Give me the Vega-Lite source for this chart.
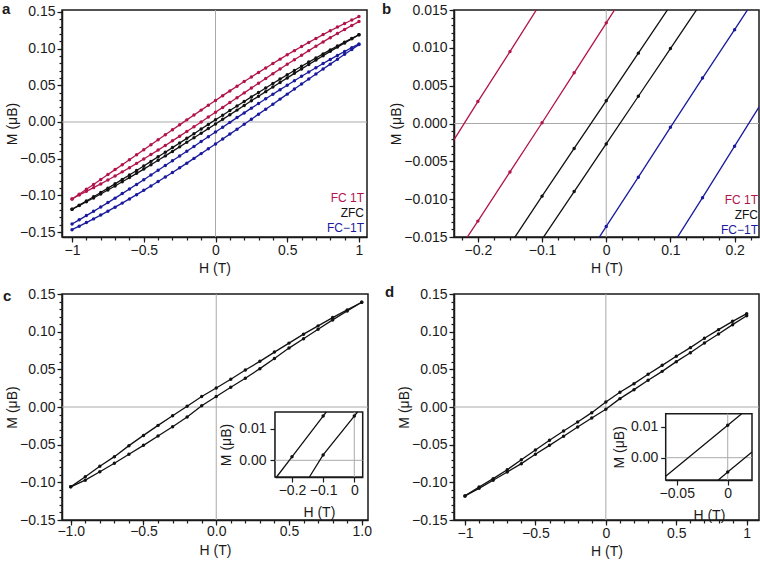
{
"$schema": "https://vega.github.io/schema/vega-lite/v6.json",
"padding": {"left": 1, "top": 1, "right": 0, "bottom": 0},
"background": "white",
"columns": 2,
"spacing": {"row": 57, "column": 86},
"bounds": "flush",
"config": {
  "font": "Liberation Sans",
  "view": {"stroke": "#1a1a1a", "strokeWidth": 1.5},
  "axis": {"labelFontSize": 14, "titleFontSize": 14, "titleFontWeight": "normal", "labelColor": "#1a1a1a", "titleColor": "#1a1a1a", "domainColor": "#1a1a1a", "domainWidth": 1.5, "tickColor": "#1a1a1a", "tickWidth": 1.2, "tickSize": 5, "grid": false, "labelPadding": 2, "labelOverlap": false, "labelFlush": false, "labelBound": false},
  "axisX": {"titlePadding": 4, "labelPadding": 1},
  "axisY": {"titlePadding": 0},
  "title": {"anchor": "start", "frame": "group", "fontSize": 15, "fontWeight": "bold", "offset": 0, "baseline": "alphabetic", "color": "#1a1a1a"}
},
"datasets": {
"A": [
{"s":"FC 1T","b":"u","h":-1,"m":-0.105},{"s":"FC 1T","b":"u","h":-0.95,"m":-0.0984},{"s":"FC 1T","b":"u","h":-0.9,"m":-0.0918},{"s":"FC 1T","b":"u","h":-0.85,"m":-0.0851},{"s":"FC 1T","b":"u","h":-0.8,"m":-0.0784},{"s":"FC 1T","b":"u","h":-0.75,"m":-0.0717},{"s":"FC 1T","b":"u","h":-0.7,"m":-0.0649},{"s":"FC 1T","b":"u","h":-0.65,"m":-0.0582},{"s":"FC 1T","b":"u","h":-0.6,"m":-0.0514},{"s":"FC 1T","b":"u","h":-0.55,"m":-0.0446},{"s":"FC 1T","b":"u","h":-0.5,"m":-0.0378},{"s":"FC 1T","b":"u","h":-0.45,"m":-0.031},{"s":"FC 1T","b":"u","h":-0.4,"m":-0.0242},{"s":"FC 1T","b":"u","h":-0.35,"m":-0.0174},{"s":"FC 1T","b":"u","h":-0.3,"m":-0.0106},{"s":"FC 1T","b":"u","h":-0.25,"m":-0.0039},{"s":"FC 1T","b":"u","h":-0.2,"m":0.0029},{"s":"FC 1T","b":"u","h":-0.15,"m":0.0095},{"s":"FC 1T","b":"u","h":-0.1,"m":0.0162},{"s":"FC 1T","b":"u","h":-0.05,"m":0.0228},{"s":"FC 1T","b":"u","h":0,"m":0.0294},{"s":"FC 1T","b":"u","h":0.05,"m":0.0359},{"s":"FC 1T","b":"u","h":0.1,"m":0.0424},{"s":"FC 1T","b":"u","h":0.15,"m":0.0488},{"s":"FC 1T","b":"u","h":0.2,"m":0.0552},{"s":"FC 1T","b":"u","h":0.25,"m":0.0614},{"s":"FC 1T","b":"u","h":0.3,"m":0.0676},{"s":"FC 1T","b":"u","h":0.35,"m":0.0737},{"s":"FC 1T","b":"u","h":0.4,"m":0.0798},{"s":"FC 1T","b":"u","h":0.45,"m":0.0857},{"s":"FC 1T","b":"u","h":0.5,"m":0.0916},{"s":"FC 1T","b":"u","h":0.55,"m":0.0973},{"s":"FC 1T","b":"u","h":0.6,"m":0.1029},{"s":"FC 1T","b":"u","h":0.65,"m":0.1085},{"s":"FC 1T","b":"u","h":0.7,"m":0.1139},{"s":"FC 1T","b":"u","h":0.75,"m":0.1192},{"s":"FC 1T","b":"u","h":0.8,"m":0.1244},{"s":"FC 1T","b":"u","h":0.85,"m":0.1294},{"s":"FC 1T","b":"u","h":0.9,"m":0.1343},{"s":"FC 1T","b":"u","h":0.95,"m":0.1391},{"s":"FC 1T","b":"u","h":1,"m":0.1437},
{"s":"FC 1T","b":"l","h":-1,"m":-0.105},{"s":"FC 1T","b":"l","h":-0.95,"m":-0.0994},{"s":"FC 1T","b":"l","h":-0.9,"m":-0.0945},{"s":"FC 1T","b":"l","h":-0.85,"m":-0.0895},{"s":"FC 1T","b":"l","h":-0.8,"m":-0.0844},{"s":"FC 1T","b":"l","h":-0.75,"m":-0.0791},{"s":"FC 1T","b":"l","h":-0.7,"m":-0.0736},{"s":"FC 1T","b":"l","h":-0.65,"m":-0.068},{"s":"FC 1T","b":"l","h":-0.6,"m":-0.0623},{"s":"FC 1T","b":"l","h":-0.55,"m":-0.0564},{"s":"FC 1T","b":"l","h":-0.5,"m":-0.0505},{"s":"FC 1T","b":"l","h":-0.45,"m":-0.0444},{"s":"FC 1T","b":"l","h":-0.4,"m":-0.0383},{"s":"FC 1T","b":"l","h":-0.35,"m":-0.032},{"s":"FC 1T","b":"l","h":-0.3,"m":-0.0257},{"s":"FC 1T","b":"l","h":-0.25,"m":-0.0193},{"s":"FC 1T","b":"l","h":-0.2,"m":-0.0129},{"s":"FC 1T","b":"l","h":-0.15,"m":-0.0064},{"s":"FC 1T","b":"l","h":-0.1,"m":0.0001},{"s":"FC 1T","b":"l","h":-0.05,"m":0.0067},{"s":"FC 1T","b":"l","h":0,"m":0.0133},{"s":"FC 1T","b":"l","h":0.05,"m":0.0199},{"s":"FC 1T","b":"l","h":0.1,"m":0.0265},{"s":"FC 1T","b":"l","h":0.15,"m":0.0331},{"s":"FC 1T","b":"l","h":0.2,"m":0.0397},{"s":"FC 1T","b":"l","h":0.25,"m":0.0463},{"s":"FC 1T","b":"l","h":0.3,"m":0.0529},{"s":"FC 1T","b":"l","h":0.35,"m":0.0594},{"s":"FC 1T","b":"l","h":0.4,"m":0.0659},{"s":"FC 1T","b":"l","h":0.45,"m":0.0723},{"s":"FC 1T","b":"l","h":0.5,"m":0.0787},{"s":"FC 1T","b":"l","h":0.55,"m":0.0849},{"s":"FC 1T","b":"l","h":0.6,"m":0.0911},{"s":"FC 1T","b":"l","h":0.65,"m":0.0973},{"s":"FC 1T","b":"l","h":0.7,"m":0.1033},{"s":"FC 1T","b":"l","h":0.75,"m":0.1092},{"s":"FC 1T","b":"l","h":0.8,"m":0.115},{"s":"FC 1T","b":"l","h":0.85,"m":0.1207},{"s":"FC 1T","b":"l","h":0.9,"m":0.1262},{"s":"FC 1T","b":"l","h":0.95,"m":0.1316},{"s":"FC 1T","b":"l","h":1,"m":0.1369},
{"s":"ZFC","b":"u","h":-1,"m":-0.119},{"s":"ZFC","b":"u","h":-0.95,"m":-0.1134},{"s":"ZFC","b":"u","h":-0.9,"m":-0.1077},{"s":"ZFC","b":"u","h":-0.85,"m":-0.102},{"s":"ZFC","b":"u","h":-0.8,"m":-0.0961},{"s":"ZFC","b":"u","h":-0.75,"m":-0.0902},{"s":"ZFC","b":"u","h":-0.7,"m":-0.0843},{"s":"ZFC","b":"u","h":-0.65,"m":-0.0783},{"s":"ZFC","b":"u","h":-0.6,"m":-0.0722},{"s":"ZFC","b":"u","h":-0.55,"m":-0.0661},{"s":"ZFC","b":"u","h":-0.5,"m":-0.0599},{"s":"ZFC","b":"u","h":-0.45,"m":-0.0537},{"s":"ZFC","b":"u","h":-0.4,"m":-0.0474},{"s":"ZFC","b":"u","h":-0.35,"m":-0.0412},{"s":"ZFC","b":"u","h":-0.3,"m":-0.0349},{"s":"ZFC","b":"u","h":-0.25,"m":-0.0286},{"s":"ZFC","b":"u","h":-0.2,"m":-0.0223},{"s":"ZFC","b":"u","h":-0.15,"m":-0.016},{"s":"ZFC","b":"u","h":-0.1,"m":-0.0096},{"s":"ZFC","b":"u","h":-0.05,"m":-0.0033},{"s":"ZFC","b":"u","h":0,"m":0.003},{"s":"ZFC","b":"u","h":0.05,"m":0.0093},{"s":"ZFC","b":"u","h":0.1,"m":0.0156},{"s":"ZFC","b":"u","h":0.15,"m":0.0218},{"s":"ZFC","b":"u","h":0.2,"m":0.028},{"s":"ZFC","b":"u","h":0.25,"m":0.0342},{"s":"ZFC","b":"u","h":0.3,"m":0.0403},{"s":"ZFC","b":"u","h":0.35,"m":0.0464},{"s":"ZFC","b":"u","h":0.4,"m":0.0525},{"s":"ZFC","b":"u","h":0.45,"m":0.0585},{"s":"ZFC","b":"u","h":0.5,"m":0.0644},{"s":"ZFC","b":"u","h":0.55,"m":0.0702},{"s":"ZFC","b":"u","h":0.6,"m":0.076},{"s":"ZFC","b":"u","h":0.65,"m":0.0817},{"s":"ZFC","b":"u","h":0.7,"m":0.0873},{"s":"ZFC","b":"u","h":0.75,"m":0.0929},{"s":"ZFC","b":"u","h":0.8,"m":0.0983},{"s":"ZFC","b":"u","h":0.85,"m":0.1036},{"s":"ZFC","b":"u","h":0.9,"m":0.1089},{"s":"ZFC","b":"u","h":0.95,"m":0.114},{"s":"ZFC","b":"u","h":1,"m":0.119},
{"s":"ZFC","b":"l","h":-1,"m":-0.119},{"s":"ZFC","b":"l","h":-0.95,"m":-0.114},{"s":"ZFC","b":"l","h":-0.9,"m":-0.1088},{"s":"ZFC","b":"l","h":-0.85,"m":-0.1036},{"s":"ZFC","b":"l","h":-0.8,"m":-0.0982},{"s":"ZFC","b":"l","h":-0.75,"m":-0.0927},{"s":"ZFC","b":"l","h":-0.7,"m":-0.0872},{"s":"ZFC","b":"l","h":-0.65,"m":-0.0815},{"s":"ZFC","b":"l","h":-0.6,"m":-0.0758},{"s":"ZFC","b":"l","h":-0.55,"m":-0.07},{"s":"ZFC","b":"l","h":-0.5,"m":-0.0642},{"s":"ZFC","b":"l","h":-0.45,"m":-0.0582},{"s":"ZFC","b":"l","h":-0.4,"m":-0.0522},{"s":"ZFC","b":"l","h":-0.35,"m":-0.0462},{"s":"ZFC","b":"l","h":-0.3,"m":-0.0401},{"s":"ZFC","b":"l","h":-0.25,"m":-0.0339},{"s":"ZFC","b":"l","h":-0.2,"m":-0.0277},{"s":"ZFC","b":"l","h":-0.15,"m":-0.0215},{"s":"ZFC","b":"l","h":-0.1,"m":-0.0153},{"s":"ZFC","b":"l","h":-0.05,"m":-0.009},{"s":"ZFC","b":"l","h":0,"m":-0.0027},{"s":"ZFC","b":"l","h":0.05,"m":0.0036},{"s":"ZFC","b":"l","h":0.1,"m":0.0099},{"s":"ZFC","b":"l","h":0.15,"m":0.0162},{"s":"ZFC","b":"l","h":0.2,"m":0.0226},{"s":"ZFC","b":"l","h":0.25,"m":0.0289},{"s":"ZFC","b":"l","h":0.3,"m":0.0352},{"s":"ZFC","b":"l","h":0.35,"m":0.0414},{"s":"ZFC","b":"l","h":0.4,"m":0.0477},{"s":"ZFC","b":"l","h":0.45,"m":0.0539},{"s":"ZFC","b":"l","h":0.5,"m":0.0601},{"s":"ZFC","b":"l","h":0.55,"m":0.0663},{"s":"ZFC","b":"l","h":0.6,"m":0.0724},{"s":"ZFC","b":"l","h":0.65,"m":0.0784},{"s":"ZFC","b":"l","h":0.7,"m":0.0844},{"s":"ZFC","b":"l","h":0.75,"m":0.0904},{"s":"ZFC","b":"l","h":0.8,"m":0.0963},{"s":"ZFC","b":"l","h":0.85,"m":0.1021},{"s":"ZFC","b":"l","h":0.9,"m":0.1078},{"s":"ZFC","b":"l","h":0.95,"m":0.1134},{"s":"ZFC","b":"l","h":1,"m":0.119},
{"s":"FC−1T","b":"u","h":-1,"m":-0.139},{"s":"FC−1T","b":"u","h":-0.95,"m":-0.1334},{"s":"FC−1T","b":"u","h":-0.9,"m":-0.1276},{"s":"FC−1T","b":"u","h":-0.85,"m":-0.1218},{"s":"FC−1T","b":"u","h":-0.8,"m":-0.1159},{"s":"FC−1T","b":"u","h":-0.75,"m":-0.1099},{"s":"FC−1T","b":"u","h":-0.7,"m":-0.1038},{"s":"FC−1T","b":"u","h":-0.65,"m":-0.0976},{"s":"FC−1T","b":"u","h":-0.6,"m":-0.0914},{"s":"FC−1T","b":"u","h":-0.55,"m":-0.0851},{"s":"FC−1T","b":"u","h":-0.5,"m":-0.0787},{"s":"FC−1T","b":"u","h":-0.45,"m":-0.0723},{"s":"FC−1T","b":"u","h":-0.4,"m":-0.0659},{"s":"FC−1T","b":"u","h":-0.35,"m":-0.0594},{"s":"FC−1T","b":"u","h":-0.3,"m":-0.0529},{"s":"FC−1T","b":"u","h":-0.25,"m":-0.0464},{"s":"FC−1T","b":"u","h":-0.2,"m":-0.0398},{"s":"FC−1T","b":"u","h":-0.15,"m":-0.0333},{"s":"FC−1T","b":"u","h":-0.1,"m":-0.0267},{"s":"FC−1T","b":"u","h":-0.05,"m":-0.0202},{"s":"FC−1T","b":"u","h":0,"m":-0.0136},{"s":"FC−1T","b":"u","h":0.05,"m":-0.0071},{"s":"FC−1T","b":"u","h":0.1,"m":-0.0005},{"s":"FC−1T","b":"u","h":0.15,"m":0.006},{"s":"FC−1T","b":"u","h":0.2,"m":0.0124},{"s":"FC−1T","b":"u","h":0.25,"m":0.0189},{"s":"FC−1T","b":"u","h":0.3,"m":0.0252},{"s":"FC−1T","b":"u","h":0.35,"m":0.0316},{"s":"FC−1T","b":"u","h":0.4,"m":0.0379},{"s":"FC−1T","b":"u","h":0.45,"m":0.0441},{"s":"FC−1T","b":"u","h":0.5,"m":0.0502},{"s":"FC−1T","b":"u","h":0.55,"m":0.0563},{"s":"FC−1T","b":"u","h":0.6,"m":0.0623},{"s":"FC−1T","b":"u","h":0.65,"m":0.0682},{"s":"FC−1T","b":"u","h":0.7,"m":0.074},{"s":"FC−1T","b":"u","h":0.75,"m":0.0797},{"s":"FC−1T","b":"u","h":0.8,"m":0.0853},{"s":"FC−1T","b":"u","h":0.85,"m":0.0908},{"s":"FC−1T","b":"u","h":0.9,"m":0.0961},{"s":"FC−1T","b":"u","h":0.95,"m":0.1014},{"s":"FC−1T","b":"u","h":1,"m":0.1065},
{"s":"FC−1T","b":"l","h":-1,"m":-0.1468},{"s":"FC−1T","b":"l","h":-0.95,"m":-0.142},{"s":"FC−1T","b":"l","h":-0.9,"m":-0.1371},{"s":"FC−1T","b":"l","h":-0.85,"m":-0.1321},{"s":"FC−1T","b":"l","h":-0.8,"m":-0.1269},{"s":"FC−1T","b":"l","h":-0.75,"m":-0.1216},{"s":"FC−1T","b":"l","h":-0.7,"m":-0.1161},{"s":"FC−1T","b":"l","h":-0.65,"m":-0.1106},{"s":"FC−1T","b":"l","h":-0.6,"m":-0.1049},{"s":"FC−1T","b":"l","h":-0.55,"m":-0.0991},{"s":"FC−1T","b":"l","h":-0.5,"m":-0.0932},{"s":"FC−1T","b":"l","h":-0.45,"m":-0.0873},{"s":"FC−1T","b":"l","h":-0.4,"m":-0.0812},{"s":"FC−1T","b":"l","h":-0.35,"m":-0.075},{"s":"FC−1T","b":"l","h":-0.3,"m":-0.0688},{"s":"FC−1T","b":"l","h":-0.25,"m":-0.0625},{"s":"FC−1T","b":"l","h":-0.2,"m":-0.0561},{"s":"FC−1T","b":"l","h":-0.15,"m":-0.0496},{"s":"FC−1T","b":"l","h":-0.1,"m":-0.0431},{"s":"FC−1T","b":"l","h":-0.05,"m":-0.0365},{"s":"FC−1T","b":"l","h":0,"m":-0.0299},{"s":"FC−1T","b":"l","h":0.05,"m":-0.0232},{"s":"FC−1T","b":"l","h":0.1,"m":-0.0165},{"s":"FC−1T","b":"l","h":0.15,"m":-0.0098},{"s":"FC−1T","b":"l","h":0.2,"m":-0.003},{"s":"FC−1T","b":"l","h":0.25,"m":0.0038},{"s":"FC−1T","b":"l","h":0.3,"m":0.0107},{"s":"FC−1T","b":"l","h":0.35,"m":0.0175},{"s":"FC−1T","b":"l","h":0.4,"m":0.0243},{"s":"FC−1T","b":"l","h":0.45,"m":0.0312},{"s":"FC−1T","b":"l","h":0.5,"m":0.038},{"s":"FC−1T","b":"l","h":0.55,"m":0.0449},{"s":"FC−1T","b":"l","h":0.6,"m":0.0518},{"s":"FC−1T","b":"l","h":0.65,"m":0.0586},{"s":"FC−1T","b":"l","h":0.7,"m":0.0654},{"s":"FC−1T","b":"l","h":0.75,"m":0.0722},{"s":"FC−1T","b":"l","h":0.8,"m":0.0789},{"s":"FC−1T","b":"l","h":0.85,"m":0.0856},{"s":"FC−1T","b":"l","h":0.9,"m":0.0923},{"s":"FC−1T","b":"l","h":0.95,"m":0.0989},{"s":"FC−1T","b":"l","h":1,"m":0.1055}
],
"C": [
{"b":"u","h":-1,"m":-0.106},{"b":"u","h":-0.9,"m":-0.0927},{"b":"u","h":-0.8,"m":-0.0786},{"b":"u","h":-0.7,"m":-0.0659},{"b":"u","h":-0.6,"m":-0.0513},{"b":"u","h":-0.5,"m":-0.0377},{"b":"u","h":-0.4,"m":-0.0244},{"b":"u","h":-0.3,"m":-0.0117},{"b":"u","h":-0.2,"m":0.0011},{"b":"u","h":-0.1,"m":0.014},{"b":"u","h":0,"m":0.0253},{"b":"u","h":0.1,"m":0.0368},{"b":"u","h":0.2,"m":0.0491},{"b":"u","h":0.3,"m":0.0606},{"b":"u","h":0.4,"m":0.0729},{"b":"u","h":0.5,"m":0.0848},{"b":"u","h":0.6,"m":0.0967},{"b":"u","h":0.7,"m":0.1077},{"b":"u","h":0.8,"m":0.1187},{"b":"u","h":0.9,"m":0.1289},{"b":"u","h":1,"m":0.139},
{"b":"l","h":-1,"m":-0.106},{"b":"l","h":-0.9,"m":-0.0971},{"b":"l","h":-0.8,"m":-0.086},{"b":"l","h":-0.7,"m":-0.0747},{"b":"l","h":-0.6,"m":-0.0628},{"b":"l","h":-0.5,"m":-0.0509},{"b":"l","h":-0.4,"m":-0.0385},{"b":"l","h":-0.3,"m":-0.0262},{"b":"l","h":-0.2,"m":-0.0134},{"b":"l","h":-0.1,"m":0.0017},{"b":"l","h":0,"m":0.014},{"b":"l","h":0.1,"m":0.0262},{"b":"l","h":0.2,"m":0.0381},{"b":"l","h":0.3,"m":0.0509},{"b":"l","h":0.4,"m":0.0645},{"b":"l","h":0.5,"m":0.0782},{"b":"l","h":0.6,"m":0.0905},{"b":"l","h":0.7,"m":0.1033},{"b":"l","h":0.8,"m":0.1156},{"b":"l","h":0.9,"m":0.1275},{"b":"l","h":1,"m":0.139}
],
"CL": [
{"b":"u","h":-0.2495,"m":-0.00528},{"b":"u","h":-0.2,"m":0.0011},{"b":"u","h":-0.1,"m":0.014},{"b":"u","h":-0.09,"m":0.01528},
{"b":"l","h":-0.144,"m":-0.00528},{"b":"l","h":-0.1,"m":0.0017},{"b":"l","h":0,"m":0.014},{"b":"l","h":0.0104,"m":0.01528}
],
"D": [
{"b":"u","h":-1,"m":-0.118},{"b":"u","h":-0.9,"m":-0.1062},{"b":"u","h":-0.8,"m":-0.0951},{"b":"u","h":-0.7,"m":-0.0832},{"b":"u","h":-0.6,"m":-0.0699},{"b":"u","h":-0.5,"m":-0.0571},{"b":"u","h":-0.4,"m":-0.0442},{"b":"u","h":-0.3,"m":-0.0319},{"b":"u","h":-0.2,"m":-0.0199},{"b":"u","h":-0.1,"m":-0.0075},{"b":"u","h":0,"m":0.0066},{"b":"u","h":0.1,"m":0.0195},{"b":"u","h":0.2,"m":0.031},{"b":"u","h":0.3,"m":0.0434},{"b":"u","h":0.4,"m":0.0553},{"b":"u","h":0.5,"m":0.0673},{"b":"u","h":0.6,"m":0.0788},{"b":"u","h":0.7,"m":0.0912},{"b":"u","h":0.8,"m":0.1027},{"b":"u","h":0.9,"m":0.1137},{"b":"u","h":1,"m":0.1239},
{"b":"l","h":-1,"m":-0.118},{"b":"l","h":-0.9,"m":-0.108},{"b":"l","h":-0.8,"m":-0.0973},{"b":"l","h":-0.7,"m":-0.0863},{"b":"l","h":-0.6,"m":-0.0752},{"b":"l","h":-0.5,"m":-0.0628},{"b":"l","h":-0.4,"m":-0.0509},{"b":"l","h":-0.3,"m":-0.0389},{"b":"l","h":-0.2,"m":-0.0265},{"b":"l","h":-0.1,"m":-0.0146},{"b":"l","h":0,"m":-0.0031},{"b":"l","h":0.1,"m":0.0111},{"b":"l","h":0.2,"m":0.023},{"b":"l","h":0.3,"m":0.0354},{"b":"l","h":0.4,"m":0.0473},{"b":"l","h":0.5,"m":0.0602},{"b":"l","h":0.6,"m":0.0721},{"b":"l","h":0.7,"m":0.085},{"b":"l","h":0.8,"m":0.0969},{"b":"l","h":0.9,"m":0.1093},{"b":"l","h":1,"m":0.1212}
],
"DL": [
{"b":"u","h":-0.0608,"m":-0.006},{"b":"u","h":0,"m":0.0105},{"b":"u","h":0.0137,"m":0.0142},
{"b":"l","h":-0.0092,"m":-0.0072},{"b":"l","h":0,"m":-0.0046},{"b":"l","h":0.0238,"m":0.0018}
],
"DD": [
{"b":"u","h":0,"m":0.0105},{"b":"l","h":0,"m":-0.0046}
]
},
"resolve": {"scale": {"color": "independent"}, "legend": {"color": "independent"}},
"concat": [
  {
   "width": 305, "height": 227,
   "title": {"text": "a", "dx": -60, "dy": 15.8},
   "layer": [
    {
     "data": {"name": "A"},
     "layer": [
      {"data": {"values": [{}]}, "mark": {"type": "rule", "color": "#aaaaaa", "strokeWidth": 1}, "encoding": {"x": {"datum": 0, "type": "quantitative"}}},
      {"data": {"values": [{}]}, "mark": {"type": "rule", "color": "#aaaaaa", "strokeWidth": 1}, "encoding": {"y": {"datum": 0, "type": "quantitative"}}},
      {"mark": {"type": "line", "strokeWidth": 1.3},
       "encoding": {
        "x": {"field": "h", "type": "quantitative", "scale": {"domain": [-1.07, 1.056], "nice": false, "zero": false},
              "axis": {"orient": "bottom", "title": "H (T)", "values": [-1, -0.5, 0, 0.5, 1], "format": "~g"}},
        "y": {"field": "m", "type": "quantitative", "scale": {"domain": [-0.1568, 0.1527], "nice": false, "zero": false},
              "axis": {"orient": "left", "title": "M (μB)", "values": [-0.15, -0.05, 0.05, 0.15], "format": ".2f"}},
        "color": {"field": "s", "type": "nominal", "scale": {"domain": ["FC 1T", "ZFC", "FC−1T"], "range": ["#b3134b", "#111111", "#1a1a9e"]},
                  "legend": {"title": null, "orient": "bottom-right", "offset": 3, "padding": 0, "symbolSize": 0, "symbolStrokeWidth": 0, "symbolOpacity": 0, "labelFontSize": 12, "labelAlign": "right", "labelOffset": 0, "rowPadding": 3,
                             "encode": {"labels": {"update": {"fill": {"signal": "datum.value == 'FC 1T' ? '#b3134b' : datum.value == 'ZFC' ? '#111111' : '#1a1a9e'"}}}}}},
        "detail": {"field": "b"}
       }},
      {"mark": {"type": "point", "filled": true, "size": 12, "opacity": 1},
       "encoding": {"x": {"field": "h", "type": "quantitative"}, "y": {"field": "m", "type": "quantitative"},
                    "color": {"field": "s", "type": "nominal", "legend": null}}}
     ]
    },
    {"data": {"values": [{}]}, "mark": {"type": "point", "opacity": 0},
     "encoding": {
      "x": {"datum": 0, "type": "quantitative", "scale": {"domain": [-1.07, 1.056], "nice": false, "zero": false},
            "axis": {"orient": "bottom", "title": null, "labels": false, "domain": false, "tickSize": 3, "values": [-1,-0.9,-0.8,-0.7,-0.6,-0.5,-0.4,-0.3,-0.2,-0.1,0,0.1,0.2,0.3,0.4,0.5,0.6,0.7,0.8,0.9,1]}},
      "y": {"datum": 0, "type": "quantitative", "scale": {"domain": [-0.1568, 0.1527], "nice": false, "zero": false},
            "axis": {"orient": "left", "title": null, "labels": false, "domain": false, "tickSize": 3, "values": [-0.15,-0.14,-0.13,-0.12,-0.11,-0.1,-0.09,-0.08,-0.07,-0.06,-0.05,-0.04,-0.03,-0.02,-0.01,0,0.01,0.02,0.03,0.04,0.05,0.06,0.07,0.08,0.09,0.1,0.11,0.12,0.13,0.14,0.15]}}
     }},
    {"data": {"values": [{}]}, "mark": {"type": "point", "opacity": 0},
     "encoding": {
      "y": {"datum": 0, "type": "quantitative", "scale": {"domain": [-0.1568, 0.1527], "nice": false, "zero": false},
            "axis": {"orient": "left", "title": null, "domain": false, "values": [-0.1, 0, 0.1], "format": ".2f"}}
     }}
   ],
   "resolve": {"scale": {"x": "independent", "y": "independent"}}
  },
  {
   "width": 305, "height": 227,
   "title": {"text": "b", "dx": -72, "dy": 18},
   "layer": [
    {
     "data": {"name": "A"},
     "layer": [
      {"data": {"values": [{}]}, "mark": {"type": "rule", "color": "#aaaaaa", "strokeWidth": 1}, "encoding": {"x": {"datum": 0, "type": "quantitative"}}},
      {"data": {"values": [{}]}, "mark": {"type": "rule", "color": "#aaaaaa", "strokeWidth": 1}, "encoding": {"y": {"datum": 0, "type": "quantitative"}}},
      {"mark": {"type": "line", "strokeWidth": 1.3, "clip": true},
       "encoding": {
        "x": {"field": "h", "type": "quantitative", "scale": {"domain": [-0.2372, 0.238], "nice": false, "zero": false},
              "axis": {"orient": "bottom", "title": "H (T)", "values": [-0.2, -0.1, 0, 0.1, 0.2], "format": "~g"}},
        "y": {"field": "m", "type": "quantitative", "scale": {"domain": [-0.015, 0.015], "nice": false, "zero": false},
              "axis": {"orient": "left", "title": "M (μB)", "values": [-0.015, -0.005, 0.005, 0.015], "format": ".3f"}},
        "color": {"field": "s", "type": "nominal", "scale": {"domain": ["FC 1T", "ZFC", "FC−1T"], "range": ["#b3134b", "#111111", "#1a1a9e"]},
                  "legend": {"title": null, "orient": "bottom-right", "offset": 1, "padding": 0, "symbolSize": 0, "symbolStrokeWidth": 0, "symbolOpacity": 0, "labelFontSize": 12, "labelAlign": "right", "labelOffset": 0, "rowPadding": 3,
                             "encode": {"labels": {"update": {"fill": {"signal": "datum.value == 'FC 1T' ? '#b3134b' : datum.value == 'ZFC' ? '#111111' : '#1a1a9e'"}}}}}},
        "detail": {"field": "b"}
       }},
      {"mark": {"type": "point", "filled": true, "size": 12, "opacity": 1, "clip": true},
       "encoding": {"x": {"field": "h", "type": "quantitative"}, "y": {"field": "m", "type": "quantitative"},
                    "color": {"field": "s", "type": "nominal", "legend": null}}}
     ]
    },
    {"data": {"values": [{}]}, "mark": {"type": "point", "opacity": 0},
     "encoding": {
      "x": {"datum": 0, "type": "quantitative", "scale": {"domain": [-0.2372, 0.238], "nice": false, "zero": false},
            "axis": {"orient": "bottom", "title": null, "labels": false, "domain": false, "tickSize": 3, "values": [-0.225,-0.2,-0.175,-0.15,-0.125,-0.1,-0.075,-0.05,-0.025,0,0.025,0.05,0.075,0.1,0.125,0.15,0.175,0.2,0.225]}},
      "y": {"datum": 0, "type": "quantitative", "scale": {"domain": [-0.015, 0.015], "nice": false, "zero": false},
            "axis": {"orient": "left", "title": null, "labels": false, "domain": false, "tickSize": 3, "values": [-0.015,-0.014,-0.013,-0.012,-0.011,-0.01,-0.009,-0.008,-0.007,-0.006,-0.005,-0.004,-0.003,-0.002,-0.001,0,0.001,0.002,0.003,0.004,0.005,0.006,0.007,0.008,0.009,0.01,0.011,0.012,0.013,0.014,0.015]}}
     }},
    {"data": {"values": [{}]}, "mark": {"type": "point", "opacity": 0},
     "encoding": {
      "y": {"datum": 0, "type": "quantitative", "scale": {"domain": [-0.015, 0.015], "nice": false, "zero": false},
            "axis": {"orient": "left", "title": null, "domain": false, "values": [-0.01, 0, 0.01], "format": ".3f"}}
     }}
   ],
   "resolve": {"scale": {"x": "independent", "y": "independent"}}
  },
  {
   "width": 306, "height": 226,
   "title": {"text": "c", "dx": -59, "dy": 21.2},
   "layer": [
    {
     "data": {"name": "C"},
     "layer": [
      {"data": {"values": [{}]}, "mark": {"type": "rule", "color": "#aaaaaa", "strokeWidth": 1}, "encoding": {"x": {"datum": 0, "type": "quantitative"}}},
      {"data": {"values": [{}]}, "mark": {"type": "rule", "color": "#aaaaaa", "strokeWidth": 1}, "encoding": {"y": {"datum": 0, "type": "quantitative"}}},
      {"mark": {"type": "line", "strokeWidth": 1.3, "color": "#111111"},
       "encoding": {
        "x": {"field": "h", "type": "quantitative", "scale": {"domain": [-1.06, 1.043], "nice": false, "zero": false},
              "axis": {"orient": "bottom", "title": "H (T)", "values": [-1, -0.5, 0, 0.5, 1], "format": ".1f", "labelPadding": -1, "titlePadding": 5}},
        "y": {"field": "m", "type": "quantitative", "scale": {"domain": [-0.15, 0.15], "nice": false, "zero": false},
              "axis": {"orient": "left", "title": "M (μB)", "values": [-0.15, -0.05, 0.05, 0.15], "format": ".2f"}},
        "detail": {"field": "b"}
       }},
      {"mark": {"type": "point", "filled": true, "size": 12, "opacity": 1, "color": "#111111"},
       "encoding": {"x": {"field": "h", "type": "quantitative"}, "y": {"field": "m", "type": "quantitative"}}}
     ]
    },
    {"data": {"values": [{}]}, "mark": {"type": "point", "opacity": 0},
     "encoding": {
      "x": {"datum": 0, "type": "quantitative", "scale": {"domain": [-1.06, 1.043], "nice": false, "zero": false},
            "axis": {"orient": "bottom", "title": null, "labels": false, "domain": false, "tickSize": 3, "values": [-1,-0.9,-0.8,-0.7,-0.6,-0.5,-0.4,-0.3,-0.2,-0.1,0,0.1,0.2,0.3,0.4,0.5,0.6,0.7,0.8,0.9,1]}},
      "y": {"datum": 0, "type": "quantitative", "scale": {"domain": [-0.15, 0.15], "nice": false, "zero": false},
            "axis": {"orient": "left", "title": null, "labels": false, "domain": false, "tickSize": 3, "values": [-0.15,-0.14,-0.13,-0.12,-0.11,-0.1,-0.09,-0.08,-0.07,-0.06,-0.05,-0.04,-0.03,-0.02,-0.01,0,0.01,0.02,0.03,0.04,0.05,0.06,0.07,0.08,0.09,0.1,0.11,0.12,0.13,0.14,0.15]}}
     }},
    {"data": {"values": [{}]}, "mark": {"type": "point", "opacity": 0},
     "encoding": {
      "y": {"datum": 0, "type": "quantitative", "scale": {"domain": [-0.15, 0.15], "nice": false, "zero": false},
            "axis": {"orient": "left", "title": null, "domain": false, "values": [-0.1, 0, 0.1], "format": ".2f"}}
     }},
    {
     "layer": [
      {"data": {"values": [{}]}, "mark": {"type": "rect", "fill": "white", "stroke": "#1a1a1a", "strokeWidth": 1.5},
       "encoding": {
        "x": {"datum": -0.2545, "type": "quantitative", "scale": {"domain": [-0.2545, 0.027], "range": [213, 300.7], "nice": false, "zero": false},
              "axis": {"orient": "bottom", "offset": -43, "title": "H (T)", "values": [-0.2, -0.1, 0], "format": "~g", "tickSize": 5, "titlePadding": 8}},
        "x2": {"datum": 0.027},
        "y": {"datum": -0.00528, "type": "quantitative", "scale": {"domain": [-0.00528, 0.01528], "range": [183, 118], "nice": false, "zero": false},
              "axis": {"orient": "left", "offset": -213, "title": "M (μB)", "values": [0, 0.01], "format": ".2f", "tickSize": 5, "labelPadding": 4, "titlePadding": 5}},
        "y2": {"datum": 0.01528}
       }},
      {"data": {"values": [{}]}, "mark": {"type": "rule", "color": "#aaaaaa", "strokeWidth": 1},
       "encoding": {"x": {"datum": 0, "type": "quantitative"}, "y": {"datum": -0.00528, "type": "quantitative"}, "y2": {"datum": 0.01528}}},
      {"data": {"values": [{}]}, "mark": {"type": "rule", "color": "#aaaaaa", "strokeWidth": 1},
       "encoding": {"y": {"datum": 0, "type": "quantitative"}, "x": {"datum": -0.2545, "type": "quantitative"}, "x2": {"datum": 0.027}}},
      {"data": {"name": "CL"}, "mark": {"type": "line", "strokeWidth": 1.3, "color": "#111111"},
       "encoding": {"x": {"field": "h", "type": "quantitative"}, "y": {"field": "m", "type": "quantitative"}, "detail": {"field": "b"}}},
      {"data": {"name": "C"},
       "transform": [{"filter": "datum.h >= -0.2545 && datum.h <= 0.027 && datum.m >= -0.00528 && datum.m <= 0.01528"}],
       "mark": {"type": "point", "filled": true, "size": 12, "opacity": 1, "color": "#111111"},
       "encoding": {"x": {"field": "h", "type": "quantitative"}, "y": {"field": "m", "type": "quantitative"}}}
     ]
    }
   ],
   "resolve": {"scale": {"x": "independent", "y": "independent"}}
  },
  {
   "width": 305, "height": 226,
   "title": {"text": "d", "dx": -69, "dy": 17.2},
   "layer": [
    {
     "data": {"name": "D"},
     "layer": [
      {"data": {"values": [{}]}, "mark": {"type": "rule", "color": "#aaaaaa", "strokeWidth": 1}, "encoding": {"x": {"datum": 0, "type": "quantitative"}}},
      {"data": {"values": [{}]}, "mark": {"type": "rule", "color": "#aaaaaa", "strokeWidth": 1}, "encoding": {"y": {"datum": 0, "type": "quantitative"}}},
      {"mark": {"type": "line", "strokeWidth": 1.3, "color": "#111111"},
       "encoding": {
        "x": {"field": "h", "type": "quantitative", "scale": {"domain": [-1.078, 1.0873], "nice": false, "zero": false},
              "axis": {"orient": "bottom", "title": "H (T)", "values": [-1, -0.5, 0, 0.5, 1], "format": "~g"}},
        "y": {"field": "m", "type": "quantitative", "scale": {"domain": [-0.15, 0.15], "nice": false, "zero": false},
              "axis": {"orient": "left", "title": "M (μB)", "values": [-0.15, -0.05, 0.05, 0.15], "format": ".2f"}},
        "detail": {"field": "b"}
       }},
      {"mark": {"type": "point", "filled": true, "size": 12, "opacity": 1, "color": "#111111"},
       "encoding": {"x": {"field": "h", "type": "quantitative"}, "y": {"field": "m", "type": "quantitative"}}}
     ]
    },
    {"data": {"values": [{}]}, "mark": {"type": "point", "opacity": 0},
     "encoding": {
      "x": {"datum": 0, "type": "quantitative", "scale": {"domain": [-1.078, 1.0873], "nice": false, "zero": false},
            "axis": {"orient": "bottom", "title": null, "labels": false, "domain": false, "tickSize": 3, "values": [-1,-0.9,-0.8,-0.7,-0.6,-0.5,-0.4,-0.3,-0.2,-0.1,0,0.1,0.2,0.3,0.4,0.5,0.6,0.7,0.8,0.9,1]}},
      "y": {"datum": 0, "type": "quantitative", "scale": {"domain": [-0.15, 0.15], "nice": false, "zero": false},
            "axis": {"orient": "left", "title": null, "labels": false, "domain": false, "tickSize": 3, "values": [-0.15,-0.14,-0.13,-0.12,-0.11,-0.1,-0.09,-0.08,-0.07,-0.06,-0.05,-0.04,-0.03,-0.02,-0.01,0,0.01,0.02,0.03,0.04,0.05,0.06,0.07,0.08,0.09,0.1,0.11,0.12,0.13,0.14,0.15]}}
     }},
    {"data": {"values": [{}]}, "mark": {"type": "point", "opacity": 0},
     "encoding": {
      "y": {"datum": 0, "type": "quantitative", "scale": {"domain": [-0.15, 0.15], "nice": false, "zero": false},
            "axis": {"orient": "left", "title": null, "domain": false, "values": [-0.1, 0, 0.1], "format": ".2f"}}
     }},
    {
     "layer": [
      {"data": {"values": [{}]}, "mark": {"type": "rect", "fill": "white", "stroke": "#1a1a1a", "strokeWidth": 1.5},
       "encoding": {
        "x": {"datum": -0.0608, "type": "quantitative", "scale": {"domain": [-0.0608, 0.0238], "range": [211.7, 298], "nice": false, "zero": false},
              "axis": {"orient": "bottom", "offset": -40, "title": "H (T)", "values": [-0.05, 0], "format": "~g", "tickSize": 5, "titlePadding": 8}},
        "x2": {"datum": 0.0238},
        "y": {"datum": -0.0072, "type": "quantitative", "scale": {"domain": [-0.0072, 0.0142], "range": [186, 119.7], "nice": false, "zero": false},
              "axis": {"orient": "left", "offset": -211.7, "title": "M (μB)", "values": [0, 0.01], "format": ".2f", "tickSize": 5, "labelPadding": 3, "titlePadding": 4}},
        "y2": {"datum": 0.0142}
       }},
      {"data": {"values": [{}]}, "mark": {"type": "rule", "color": "#aaaaaa", "strokeWidth": 1},
       "encoding": {"x": {"datum": 0, "type": "quantitative"}, "y": {"datum": -0.0072, "type": "quantitative"}, "y2": {"datum": 0.0142}}},
      {"data": {"values": [{}]}, "mark": {"type": "rule", "color": "#aaaaaa", "strokeWidth": 1},
       "encoding": {"y": {"datum": 0, "type": "quantitative"}, "x": {"datum": -0.0608, "type": "quantitative"}, "x2": {"datum": 0.0238}}},
      {"data": {"name": "DL"}, "mark": {"type": "line", "strokeWidth": 1.3, "color": "#111111"},
       "encoding": {"x": {"field": "h", "type": "quantitative"}, "y": {"field": "m", "type": "quantitative"}, "detail": {"field": "b"}}},
      {"data": {"name": "DD"}, "mark": {"type": "point", "filled": true, "size": 12, "opacity": 1, "color": "#111111"},
       "encoding": {"x": {"field": "h", "type": "quantitative"}, "y": {"field": "m", "type": "quantitative"}}}
     ]
    }
   ],
   "resolve": {"scale": {"x": "independent", "y": "independent"}}
  }
]
}
